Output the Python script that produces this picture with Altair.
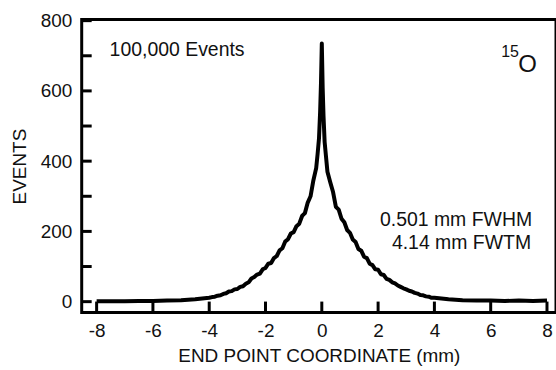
import altair as alt
import pandas as pd

# End point coordinate (mm) and event counts
coord = [-8.0, -7.5, -7.0, -6.5, -6.0, -5.5, -5.0, -4.5,
         -4.0, -3.9, -3.8, -3.7, -3.6, -3.5, -3.4, -3.3, -3.2, -3.1,
         -3.0, -2.9, -2.8, -2.7, -2.6, -2.5, -2.4, -2.3, -2.2, -2.1,
         -2.0, -1.9, -1.8, -1.7, -1.6, -1.5, -1.4, -1.3, -1.2, -1.1,
         -1.0, -0.9, -0.8, -0.7, -0.6, -0.5, -0.4, -0.3, -0.2, -0.15,
         -0.1, -0.06, -0.03, 0.0, 0.03, 0.06, 0.1, 0.15, 0.2, 0.3,
         0.4, 0.5, 0.6, 0.7, 0.8, 0.9, 1.0, 1.1, 1.2, 1.3,
         1.4, 1.5, 1.6, 1.7, 1.8, 1.9, 2.0, 2.1, 2.2, 2.3,
         2.4, 2.5, 2.6, 2.7, 2.8, 2.9, 3.0, 3.1, 3.2, 3.3,
         3.4, 3.5, 3.6, 3.7, 3.8, 3.9, 4.0,
         4.5, 5.0, 5.5, 6.0, 6.5, 7.0, 7.5, 8.0]
events = [1, 1, 1, 2, 2, 3, 4, 7,
          11, 13, 14, 17, 18, 22, 24, 29, 30, 35,
          36, 42, 44, 51, 55, 66, 70, 77, 80, 92,
          96, 108, 110, 124, 130, 146, 152, 171, 178, 194,
          198, 215, 222, 244, 252, 282, 300, 345, 380, 420,
          465, 540, 620, 735, 610, 530, 455, 412, 370, 340,
          312, 270, 262, 236, 226, 204, 196, 177, 170, 150,
          145, 128, 124, 108, 104, 92, 91, 78, 76, 65,
          62, 55, 52, 46, 42, 38, 35, 31, 29, 25,
          23, 19, 18, 15, 14, 11, 11,
          7, 4, 3, 3, 2, 3, 2, 3]

x_ticks = [-8, -6, -4, -2, 0, 2, 4, 6, 8]
y_ticks = [0, 100, 200, 300, 400, 500, 600, 700, 800]
y_labels = [0, 200, 400, 600, 800]

W, H = 476, 294
FONT = "Liberation Sans"

df = pd.DataFrame({"coord": coord, "events": events})
xscale = alt.Scale(domain=[-8.53, 8.32], nice=False, zero=False)
yscale = alt.Scale(domain=[-31, 803], nice=False, zero=False)

line = alt.Chart(df).mark_line(color="#000000", strokeWidth=4, strokeJoin="round").encode(
    x=alt.X("coord:Q", scale=xscale,
            axis=alt.Axis(title="END POINT COORDINATE (mm)", values=x_ticks, ticks=False,
                          domain=False, grid=False, labelPadding=9, titlePadding=6,
                          labelExpr="toString(datum.value)")),
    y=alt.Y("events:Q", scale=yscale,
            axis=alt.Axis(title="EVENTS", values=y_labels, ticks=False, domain=False,
                          grid=False, labelPadding=10, titlePadding=11,
                          labelExpr="toString(datum.value)")),
)

xt = alt.Chart(pd.DataFrame({"t": x_ticks})).mark_rule(color="#000000", strokeWidth=3).encode(
    x=alt.X("t:Q", scale=xscale), y=alt.value(H), y2=alt.value(H - 11))
yt = alt.Chart(pd.DataFrame({"t": y_ticks})).mark_rule(color="#000000", strokeWidth=3).encode(
    y=alt.Y("t:Q", scale=yscale), x=alt.value(0), x2=alt.value(10))

def label(text, px, py, size, align="left"):
    return alt.Chart(pd.DataFrame({"s": [text]})).mark_text(
        font=FONT, fontSize=size, align=align, baseline="middle", color="#111111"
    ).encode(x=alt.value(px), y=alt.value(py), text="s:N")

chart = alt.layer(
    line, xt, yt,
    label("100,000 Events", 28, 31, 19.5),
    label("15", 421, 33, 16),
    label("O", 438, 46, 24),
    label("0.501 mm FWHM", 452, 201, 19.5, "right"),
    label("4.14 mm FWTM", 451, 224, 19.5, "right"),
).properties(
    width=W, height=H,
    autosize=alt.AutoSizeParams(type="none"),
    padding={"left": 82, "top": 19, "right": 0, "bottom": 57},
).configure_view(
    stroke="#000000", strokeWidth=3
).configure_axis(
    labelFont=FONT, titleFont=FONT, labelFontSize=19, titleFontSize=19,
    labelColor="#111111", titleColor="#111111", titleFontWeight="normal"
)

chart.save("out.html", embed_options={"renderer": "svg", "actions": False})
